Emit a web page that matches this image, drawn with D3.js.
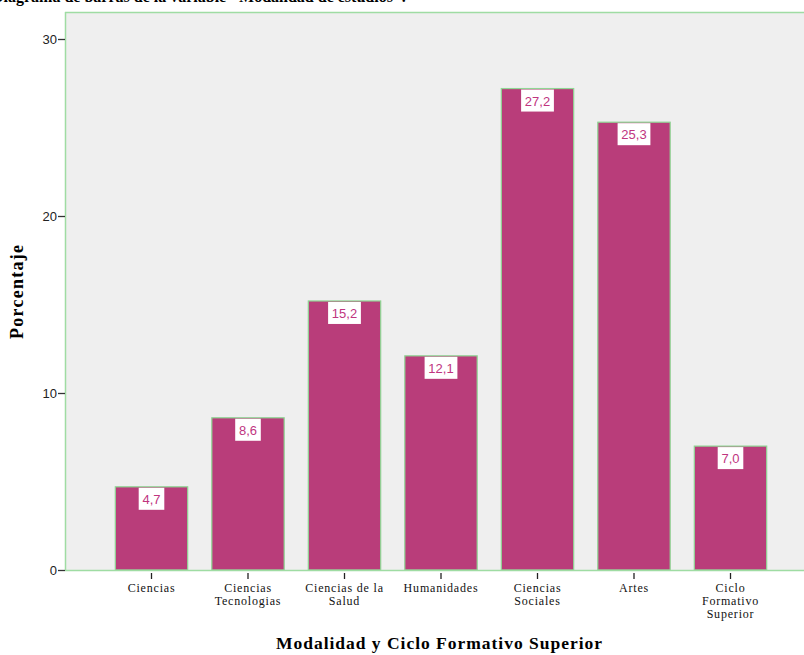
<!DOCTYPE html>
<html><head><meta charset="utf-8">
<script src="https://cdn.jsdelivr.net/npm/d3@7"></script>
<style>body{margin:0;background:#fff}svg{display:block}</style>
</head><body>
<svg id="c" width="804" height="655"></svg>
<script>
const categories = [["Ciencias"],["Ciencias","Tecnologias"],["Ciencias de la","Salud"],["Humanidades"],["Ciencias","Sociales"],["Artes"],["Ciclo","Formativo","Superior"]];
const values = [4.7, 8.6, 15.2, 12.1, 27.2, 25.3, 7.0];
const valueLabels = ["4,7","8,6","15,2","12,1","27,2","25,3","7,0"];
const yTicks = [0, 10, 20, 30];

const svg = d3.select("#c");
const pLeft = 65, pTop = 12, pBottom = 570, pRight = 804;
const x = d3.scaleBand().domain(d3.range(values.length)).range([103.25, 778.75]).paddingInner(0.25).paddingOuter(0.125);
const y = d3.scaleLinear().domain([0, 30]).range([pBottom, 39]);

// title (cut off at top)
svg.append("text").attr("x", -8).attr("y", 2).attr("font-family", "Liberation Serif").attr("font-weight", "bold").attr("font-size", 16).attr("fill", "#000")
  .text("Diagrama de barras de la variable \"Modalidad de estudios\".");

// plot background
svg.append("rect").attr("x", pLeft).attr("y", pTop).attr("width", pRight - pLeft).attr("height", pBottom - pTop).attr("fill", "#efefef");
const frame = "#9fdca3";
svg.append("line").attr("x1", pLeft).attr("x2", pRight).attr("y1", pTop + 0.5).attr("y2", pTop + 0.5).attr("stroke", frame).attr("stroke-width", 1.5);
svg.append("line").attr("x1", pLeft + 0.5).attr("x2", pLeft + 0.5).attr("y1", pTop).attr("y2", pBottom).attr("stroke", frame).attr("stroke-width", 1.5);

// bars
svg.append("g").selectAll("rect").data(values).join("rect")
  .attr("x", (d, i) => x(i)).attr("width", x.bandwidth())
  .attr("y", d => y(d)).attr("height", d => y(0) - y(d))
  .attr("fill", "#b93d7a").attr("stroke", "#8fd694").attr("stroke-width", 1.2);

svg.append("line").attr("x1", pLeft).attr("x2", pRight).attr("y1", pBottom + 0.5).attr("y2", pBottom + 0.5).attr("stroke", frame).attr("stroke-width", 1.5);

// value labels
const lab = svg.append("g").selectAll("g").data(values).join("g")
  .attr("transform", (d, i) => `translate(${x(i) + x.bandwidth() / 2},${y(d)})`);
lab.append("rect").attr("x", (d, i) => -(valueLabels[i].length * 7.2 + 4) / 2).attr("y", 1).attr("height", 22)
  .attr("width", (d, i) => valueLabels[i].length * 7.2 + 4).attr("fill", "#fff");
lab.append("text").attr("y", 17).attr("text-anchor", "middle").attr("font-family", "Liberation Sans").attr("font-size", 13)
  .attr("fill", "#c0357f").text((d, i) => valueLabels[i]);

// y axis
const ya = svg.append("g").attr("transform", `translate(${pLeft},0)`)
  .call(d3.axisLeft(y).tickValues(yTicks).tickSize(7).tickSizeOuter(0).tickFormat(d3.format("d")));
ya.select(".domain").remove();
ya.selectAll(".tick line").attr("stroke", "#333").attr("stroke-width", 1.3);
ya.selectAll(".tick text").attr("font-family", "Liberation Sans").attr("font-size", 13).attr("fill", "#222").attr("x", -8);

// x axis
const xa = svg.append("g").attr("transform", `translate(0,${pBottom + 1})`)
  .call(d3.axisBottom(x).tickSize(8).tickSizeOuter(0).tickFormat(""));
xa.select(".domain").remove();
xa.selectAll(".tick line").attr("stroke", "#222").attr("stroke-width", 1.3).attr("y1", 2);
xa.selectAll(".tick").each(function(d, i) {
  const t = d3.select(this).append("text").attr("fill", "#111").attr("font-family", "Liberation Serif").attr("font-size", 12).attr("text-anchor", "middle").attr("letter-spacing", 0.8);
  categories[i].forEach((s, k) => t.append("tspan").attr("x", 0).attr("y", 21 + k * 13).text(s));
});

// axis titles
svg.append("text").attr("x", 439).attr("y", 649).attr("text-anchor", "middle").attr("font-family", "Liberation Serif").attr("font-weight", "bold").attr("font-size", 17.5)
  .attr("textLength", 326).attr("lengthAdjust", "spacing").text("Modalidad y Ciclo Formativo Superior");
svg.append("text").attr("transform", "translate(23,292) rotate(-90)").attr("text-anchor", "middle").attr("font-family", "Liberation Serif").attr("font-weight", "bold").attr("font-size", 18)
  .attr("textLength", 94).attr("lengthAdjust", "spacing").text("Porcentaje");
</script>
</body></html>
